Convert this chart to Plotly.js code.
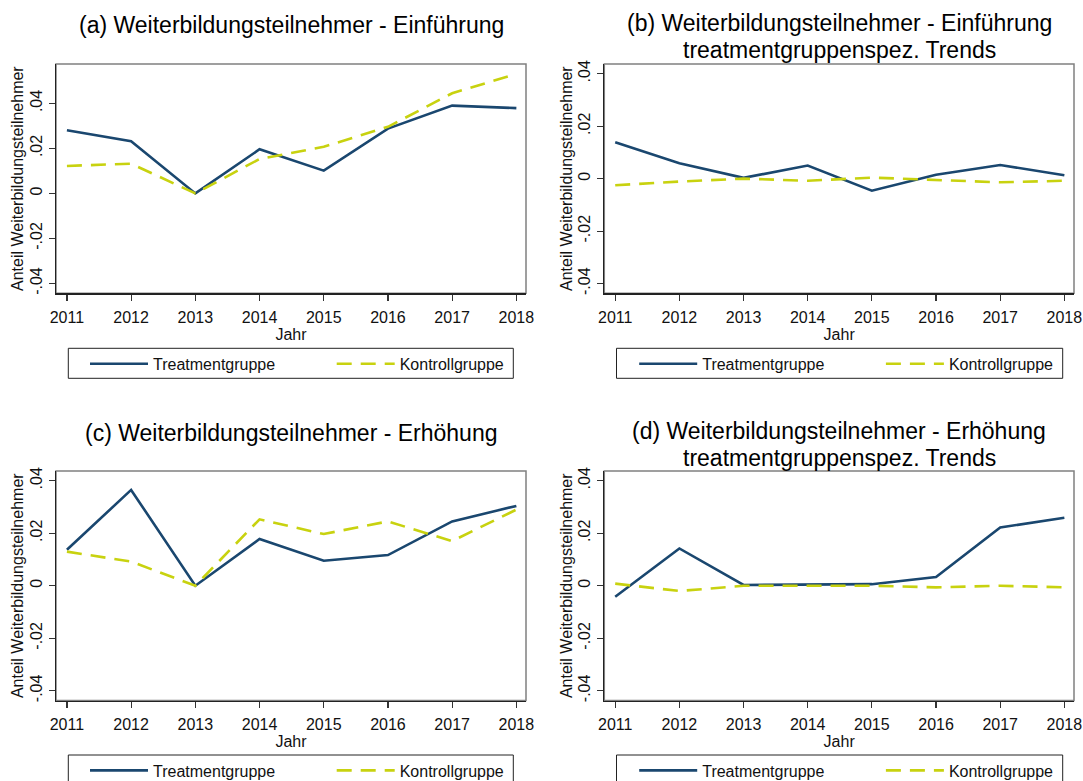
<!DOCTYPE html>
<html>
<head>
<meta charset="utf-8">
<script src="https://cdn.plot.ly/plotly-3.0.1.min.js"></script>
<style>html,body{margin:0;padding:0;background:#fff;}#chart{width:1083px;height:781px;}</style>
</head>
<body>
<div id="chart"></div>
<script>
// ---- data ----
const years = [2011, 2012, 2013, 2014, 2015, 2016, 2017, 2018];
const seriesNames = ["Treatmentgruppe", "Kontrollgruppe"];

const aTreat = [0.0281, 0.0232, 0.0000, 0.0196, 0.0101, 0.0288, 0.0390, 0.0379];
const aCtrl  = [0.0122, 0.0132, 0.0000, 0.0153, 0.0207, 0.0296, 0.0445, 0.0531];
const bTreat = [0.0139, 0.0059, 0.0003, 0.0050, -0.0046, 0.0015, 0.0052, 0.0013];
const bCtrl  = [-0.0025, -0.0011, 0.0000, -0.0008, 0.0004, -0.0006, -0.0014, -0.0008];
const cTreat = [0.0137, 0.0365, 0.0000, 0.0178, 0.0095, 0.0117, 0.0245, 0.0304];
const cCtrl  = [0.0130, 0.0092, 0.0000, 0.0253, 0.0197, 0.0245, 0.0170, 0.0290];
const dTreat = [-0.0042, 0.0142, 0.0003, 0.0005, 0.0006, 0.0033, 0.0222, 0.0259];
const dCtrl  = [0.0008, -0.0020, 0.0000, 0.0000, 0.0000, -0.0006, 0.0000, -0.0006];

const yTickVals = [-0.04, -0.02, 0, 0.02, 0.04];
const yTickText = ["-.04", "-.02", "0", ".02", ".04"];

const titleLines = [
  ["(a) Weiterbildungsteilnehmer - Einführung"],
  ["(b) Weiterbildungsteilnehmer - Einführung", "treatmentgruppenspez. Trends"],
  ["(c) Weiterbildungsteilnehmer - Erhöhung"],
  ["(d) Weiterbildungsteilnehmer - Erhöhung", "treatmentgruppenspez. Trends"]
];
const xTitle = "Jahr";
const yTitle = "Anteil Weiterbildungsteilnehmer";

// ---- styling ----
const W = 1083, H = 781;
const FONT = "Arial, 'Liberation Sans', sans-serif";
const navy = "#1a476f";
const lime = "#c8d20f";

const panels = [
  {treat: aTreat, ctrl: aCtrl, yr: [-0.0444, 0.0575], x: [56, 526],   y: [64, 293.3]},
  {treat: bTreat, ctrl: bCtrl, yr: [-0.0437, 0.0437], x: [604.3, 1074], y: [64, 293.3]},
  {treat: cTreat, ctrl: cCtrl, yr: [-0.0437, 0.0437], x: [56, 526],   y: [471, 700.5]},
  {treat: dTreat, ctrl: dCtrl, yr: [-0.0437, 0.0437], x: [604.3, 1074], y: [471, 700.5]}
];
// legend frame [x0, y0, x1, y1] in px and legend item start x
const legendBox = [[68.3, 348.3, 513.3, 378.3], [616.5, 348.3, 1062.7, 378.3],
                   [68.3, 755, 513.3, 785], [616.5, 755, 1062.7, 785]];
const legendItemX = [85, 634.2, 85, 634.2];
const titleY = [[25], [23.5, 49.5], [433], [431.5, 457.5]];

const data = [];
const layout = {
  width: W, height: H,
  margin: {l: 0, r: 0, t: 0, b: 0, autoexpand: false},
  paper_bgcolor: "#fff", plot_bgcolor: "#fff",
  font: {family: FONT, size: 16, color: "#000"},
  showlegend: true,
  annotations: [],
  shapes: []
};

panels.forEach((p, i) => {
  const n = i + 1;
  const sfx = n === 1 ? "" : String(n);
  const xa = "x" + sfx, ya = "y" + sfx;
  const lg = "legend" + sfx;
  data.push({
    x: years, y: p.treat, xaxis: xa, yaxis: ya, type: "scatter", mode: "lines",
    name: seriesNames[0], legend: lg,
    line: {color: navy, width: 2.6}
  });
  data.push({
    x: years, y: p.ctrl, xaxis: xa, yaxis: ya, type: "scatter", mode: "lines",
    name: seriesNames[1], legend: lg,
    line: {color: lime, width: 2.6, dash: "15px,9px"}
  });
  layout["xaxis" + sfx] = {
    domain: [p.x[0] / W, p.x[1] / W],
    anchor: ya,
    range: [2010.83, 2018.15],
    tickvals: years, ticktext: years.map(String),
    ticks: "outside", ticklen: 6, tickwidth: 1.2, tickcolor: "#333",
    ticklabelstandoff: 3,
    showline: true, linecolor: "#222", linewidth: 1.5,
    showgrid: false, zeroline: false,
    tickfont: {size: 16, family: FONT, color: "#111"},
    title: {text: xTitle, font: {size: 16, family: FONT, color: "#111"}, standoff: 2},
    automargin: false, fixedrange: true
  };
  layout["yaxis" + sfx] = {
    domain: [1 - p.y[1] / H, 1 - p.y[0] / H],
    anchor: xa,
    range: p.yr,
    tickvals: yTickVals, ticktext: yTickText, tickangle: -90,
    ticks: "outside", ticklen: 6, tickwidth: 1.2, tickcolor: "#333",
    showline: true, linecolor: "#222", linewidth: 1.5,
    showgrid: false, zeroline: false,
    tickfont: {size: 16, family: FONT, color: "#111"},
    title: {text: yTitle, font: {size: 16, family: FONT, color: "#111"}, standoff: 0},
    automargin: false, fixedrange: true
  };
  // plot region frame (top/right grey like the original)
  layout.shapes.push({
    type: "rect", xref: xa + " domain", yref: ya + " domain",
    x0: 0, x1: 1, y0: 0, y1: 1,
    line: {color: "#808080", width: 1.5}, layer: "below"
  });
  // legend frame
  const b = legendBox[i];
  layout.shapes.push({
    type: "rect", xref: "paper", yref: "paper",
    x0: b[0] / W, x1: b[2] / W, y0: 1 - b[3] / H, y1: 1 - b[1] / H,
    line: {color: "#222", width: 1}, fillcolor: "rgba(0,0,0,0)", layer: "below"
  });
  layout[lg] = {
    x: legendItemX[i] / W, y: 1 - (b[1] + 15.5) / H,
    xanchor: "left", yanchor: "middle",
    orientation: "h",
    borderwidth: 0, bgcolor: "rgba(0,0,0,0)",
    font: {size: 16, family: FONT, color: "#111"},
    itemwidth: 58,
    entrywidth: 173.7, entrywidthmode: "pixels",
    itemclick: false, itemdoubleclick: false
  };
  const cx = (p.x[0] + p.x[1]) / 2 / W;
  titleLines[i].forEach((t, k) => {
    layout.annotations.push({
      text: t, xref: "paper", yref: "paper",
      x: cx, y: 1 - titleY[i][k] / H,
      xanchor: "center", yanchor: "middle", showarrow: false,
      font: {size: 23, family: FONT, color: "#000"}
    });
  });
});

Plotly.newPlot("chart", data, layout, {displayModeBar: false, staticPlot: true});
</script>
</body>
</html>
